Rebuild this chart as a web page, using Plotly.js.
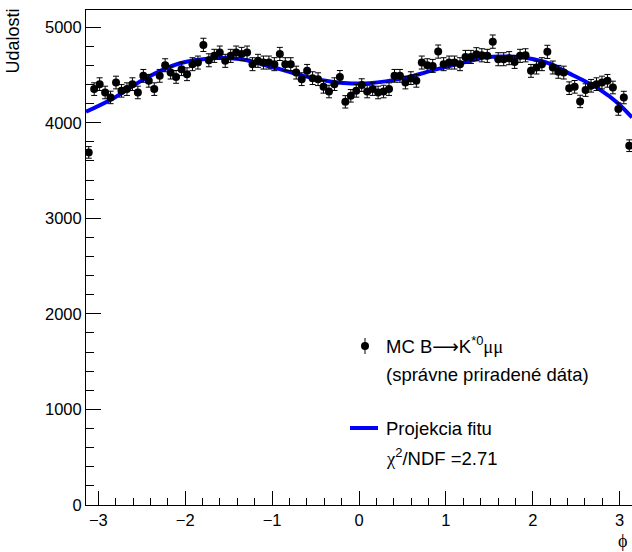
<!DOCTYPE html>
<html><head><meta charset="utf-8">
<script src="https://cdn.plot.ly/plotly-3.0.1.min.js"></script>
<style>body{margin:0;padding:0;background:#fff}#chart{width:632px;height:552px}</style>
</head><body><div id="chart"></div>
<script>
// Histogram definition (100 bins over [-pi, pi])
const phiMin = -Math.PI;
const phiMax = Math.PI;
const nBins = 100;

// Bin contents
const counts = [
  3690, 4352, 4404, 4317, 4265, 4421, 4334, 4352, 4404, 4317,
  4491, 4439, 4352, 4491, 4602, 4525, 4480, 4561, 4508, 4613,
  4630, 4815, 4654, 4700, 4734, 4648, 4700, 4734, 4720, 4734,
  4613, 4648, 4630, 4630, 4613, 4720, 4613, 4613, 4525, 4456,
  4543, 4467, 4456, 4376, 4327, 4404, 4480, 4219, 4282, 4334,
  4394, 4327, 4352, 4317, 4327, 4352, 4491, 4491, 4421, 4467,
  4439, 4630, 4602, 4595, 4745, 4613, 4630, 4630, 4613, 4689,
  4689, 4717, 4706, 4700, 4849, 4665, 4665, 4676, 4637, 4700,
  4706, 4543, 4578, 4613, 4742, 4578, 4533, 4525, 4362, 4376,
  4223, 4342, 4387, 4404, 4421, 4439, 4369, 4143, 4264, 3760
];

// Fit projection
const fitPhi = [-3.1416, -2.83, -2.44, -2.06, -1.68, -1.48, -1.29, -1.02, -0.91, -0.64,
                -0.25, -0.07, 0.12, 0.51, 0.90, 1.28, 1.44, 1.82, 2.01, 2.21,
                2.40, 2.59, 2.78, 2.97, 3.1416];
const fitVal = [4115, 4254, 4473, 4623, 4676, 4676, 4655, 4585, 4561, 4491,
                4421, 4411, 4414, 4467, 4561, 4648, 4683, 4689, 4665, 4613,
                4525, 4439, 4342, 4212, 4055];

const xTickVals = [-3, -2, -1, 0, 1, 2, 3];
const yTickVals = [0, 1000, 2000, 3000, 4000, 5000];

const binW = (phiMax - phiMin) / nBins;
const binCenters = counts.map((_, i) => phiMin + (i + 0.5) * binW);

const FONT = 'Liberation Sans, Arial, Helvetica, sans-serif';
const SERIF = 'Liberation Serif, Times New Roman, serif';
const LEG = 18.5;

const fitTrace = {
  type: 'scatter', mode: 'lines', x: fitPhi, y: fitVal,
  line: {color: '#0000ff', width: 4, shape: 'spline', smoothing: 1.0},
  hoverinfo: 'skip'
};
const dataTrace = {
  type: 'scatter', mode: 'markers', x: binCenters, y: counts,
  marker: {color: '#000', size: 8, symbol: 'circle'},
  error_y: {type: 'sqrt', visible: true, color: '#000', thickness: 1, width: 3}
};

// plot area in pixels: x 86..632, y 10..505
const px = v => (v - 86) / 546;
const py = v => (505 - v) / 495;

const layout = {
  width: 632, height: 552,
  margin: {l: 86, r: 0, t: 10, b: 47, pad: 0},
  paper_bgcolor: '#fff', plot_bgcolor: '#fff',
  font: {family: FONT, size: 16, color: '#000'},
  showlegend: false,
  xaxis: {
    range: [phiMin, phiMax], tickvals: xTickVals,
    ticks: 'inside', ticklen: 14, tickwidth: 1, tickcolor: '#000',
    showline: true, linecolor: '#000', linewidth: 1, mirror: true,
    showgrid: false, zeroline: false,
    tickfont: {family: FONT, size: 16.5, color: '#000'},
    minor: {dtick: 0.2, tick0: 0, ticks: 'inside', ticklen: 7, tickcolor: '#000', tickwidth: 1, showgrid: false}
  },
  yaxis: {
    range: [0, 5180], tickvals: yTickVals,
    ticks: 'inside', ticklen: 15, tickwidth: 1, tickcolor: '#000',
    showline: true, linecolor: '#000', linewidth: 1, mirror: true,
    showgrid: false, zeroline: false,
    tickfont: {family: FONT, size: 16.5, color: '#000'},
    minor: {dtick: 200, tick0: 0, ticks: 'inside', ticklen: 8, tickcolor: '#000', tickwidth: 1, showgrid: false}
  },
  shapes: [
    // legend sample: marker with error bar
    {type: 'line', xref: 'paper', yref: 'paper', x0: px(365), x1: px(365), y0: py(338), y1: py(354), line: {color: '#000', width: 1}},
    {type: 'circle', xref: 'paper', yref: 'paper', x0: px(361), x1: px(369), y0: py(350), y1: py(342), fillcolor: '#000', line: {color: '#000', width: 0}},
    // legend sample: fit line
    {type: 'line', xref: 'paper', yref: 'paper', x0: px(350), x1: px(378), y0: py(428), y1: py(428), line: {color: '#0000ff', width: 4}}
  ],
  annotations: [
    {xref: 'paper', yref: 'paper', x: px(13), y: py(7), text: 'Udalosti', textangle: -90,
     showarrow: false, xanchor: 'center', yanchor: 'top', font: {family: FONT, size: 18}},
    {xref: 'paper', yref: 'paper', x: px(622), y: py(541), text: '<span style="font-family:' + SERIF + '">ϕ</span>',
     showarrow: false, xanchor: 'center', yanchor: 'middle', font: {family: FONT, size: 18}},
    {xref: 'paper', yref: 'paper', x: px(384), y: py(345), xanchor: 'left', yanchor: 'middle', showarrow: false,
     text: 'MC B<span style="font-family:DejaVu Sans">⟶</span>K<sup>*0</sup><span style="font-family:' + SERIF + '">μμ</span>', font: {family: FONT, size: LEG}},
    {xref: 'paper', yref: 'paper', x: px(384), y: py(374), xanchor: 'left', yanchor: 'middle', showarrow: false,
     text: '(správne priradené dáta)', font: {family: FONT, size: LEG}},
    {xref: 'paper', yref: 'paper', x: px(384), y: py(428), xanchor: 'left', yanchor: 'middle', showarrow: false,
     text: 'Projekcia fitu', font: {family: FONT, size: LEG}},
    {xref: 'paper', yref: 'paper', x: px(384), y: py(457), xanchor: 'left', yanchor: 'middle', showarrow: false,
     text: '<span style="font-family:' + SERIF + '">χ</span><sup>2</sup>/NDF =2.71', font: {family: FONT, size: LEG}}
  ]
};

Plotly.newPlot('chart', [fitTrace, dataTrace], layout, {staticPlot: true, displayModeBar: false});
</script>
</body></html>
